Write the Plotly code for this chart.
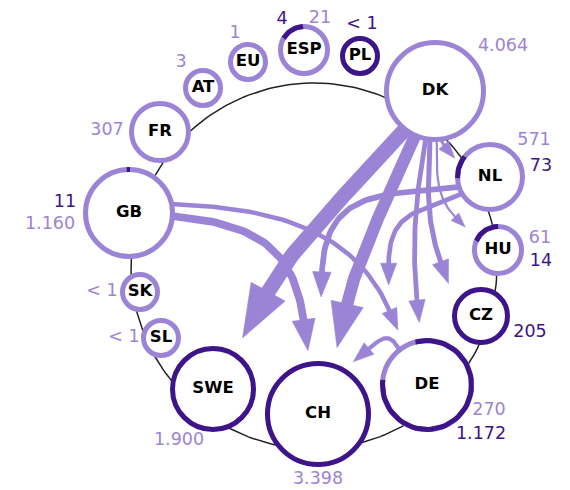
import math
import plotly.graph_objects as go

LIGHT = "#9b84d5"
DARK = "#3d1489"

# ---- data ----
nodes = ["DK", "NL", "HU", "CZ", "DE", "CH", "SWE", "SL", "SK", "GB", "FR", "AT", "EU", "ESP", "PL"]
light_vals = [4064, 571, 61, None, 270, 3398, 1900, 0.5, 0.5, 1160, 307, 3, 1, 21, None]
dark_vals = [None, 73, 14, 205, 1172, None, None, None, None, 11, None, None, None, 4, 0.5]
# share of each ring drawn in dark purple
ring_dark = [0, 0.113, 0.187, 1, 0.81, 1, 1, 0, 0, 0.01, 0, 0, 0, 0.16, 1]

flow_src = ["DK", "DK", "DK", "DK", "DK", "DK", "NL", "NL", "GB", "GB", "DE"]
flow_tgt = ["SWE", "CH", "DE", "CZ", "HU", "NL", "CH", "DE", "CH", "DE", "CH"]
flow_val = [1900, 1250, 140, 160, 14, 40, 220, 130, 450, 120, 100]

# ---- layout (pixels, y down) ----
node_x = [435, 490, 498, 481, 427, 318, 213, 161, 140, 129, 160, 203, 248, 304, 360]
node_y = [91, 177, 250, 316, 385, 414, 389, 338, 292, 213, 132, 88, 62, 50, 56]
node_r = [51, 35, 26, 29, 47, 53, 43, 20, 20, 46, 31, 20, 20, 26, 20]
ring_start = [0, 268, 293, 0, 345, 0, 0, 0, 0, 357, 0, 0, 0, 300, 0]

light_off = {"DK": (68, -44), "NL": (44, -36), "HU": (42, -11), "DE": (62, 26), "CH": (0, 66),
             "SWE": (-34, 52), "SL": (-37, 0), "SK": (-38, 0), "GB": (-79, 12), "FR": (-53, -1),
             "AT": (-22, -25), "EU": (-13, -28), "ESP": (16, -31)}
dark_off = {"NL": (51, -10), "HU": (43, 12), "CZ": (49, 17), "DE": (54, 50), "GB": (-64, -10),
            "ESP": (-22, -30), "PL": (2, -31)}

# arrow geometry: start angle on source, leaving dir, tip angle at target, gap, arriving dir, bends
flow_a0 = [128, 114, 101, 96, 88, 84, 162, 149, 4, -12, -128]
flow_d0 = [130, 112, 100, 93, 90, 60, 175, 158, 5, 2, -120]
flow_ta = [-60, -74, -97, -135, -145, -152, -88.5, -111, -99, -118, -56]
flow_gap = [16, 16, 16, 17, 14, 5, 64, 60, 11, 15, 10]
flow_d1 = [119, 103, 84, 70, 45, 50, 92, 90, 82, 67, 140]
flow_f0 = [0.33, 0.33, 0.35, 0.4, 0.45, 0.3, 0.5, 0.5, 0.55, 0.45, 0.7]
flow_f1 = [0.33, 0.33, 0.35, 0.35, 0.35, 0.3, 0.5, 0.5, 0.4, 0.35, 0.6]

RING_W = 5
circle_c = (314, 266)
circle_r = 183
PAGE_PAD = 8  # the page body margin shifts the figure; shift the ranges back


def fmt(v):
	if v < 1:
		return "< 1"
	return "{:,}".format(v).replace(",", ".")


def unit(deg):
	a = math.radians(deg)
	return math.cos(a), math.sin(a)


def bezier(p0, c1, c2, p3, n=50):
	xs, ys = [], []
	for i in range(n + 1):
		t = i / n
		a, b, c, d = (1 - t) ** 3, 3 * (1 - t) ** 2 * t, 3 * (1 - t) * t ** 2, t ** 3
		xs.append(a * p0[0] + b * c1[0] + c * c2[0] + d * p3[0])
		ys.append(a * p0[1] + b * c1[1] + c * c2[1] + d * p3[1])
	return xs, ys


def arc(cx, cy, r, start, end, n=80):
	xs, ys = [], []
	for i in range(n + 1):
		th = math.radians(start + (end - start) * i / n)
		xs.append(cx + r * math.sin(th))
		ys.append(cy - r * math.cos(th))
	return xs, ys


fig = go.Figure()

# background ring
cx, cy = arc(circle_c[0], circle_c[1], circle_r, 0, 360, 240)
fig.add_trace(go.Scatter(x=cx, y=cy, mode="lines", line=dict(color="#222222", width=1.5), hoverinfo="skip"))

idx = {n: i for i, n in enumerate(nodes)}

# flows
for k in range(len(flow_src)):
	s = idx[flow_src[k]]
	t = idx[flow_tgt[k]]
	w = 1 + 0.32 * math.sqrt(flow_val[k])
	hl = 8 + 3 * w
	hw = 6 + 2.2 * w
	ua = unit(flow_a0[k])
	p0 = (node_x[s] + (node_r[s] - 3) * ua[0], node_y[s] + (node_r[s] - 3) * ua[1])
	ut = unit(flow_ta[k])
	rt = node_r[t] + flow_gap[k]
	tip = (node_x[t] + rt * ut[0], node_y[t] + rt * ut[1])
	u1 = unit(flow_d1[k])
	base = (tip[0] - hl * u1[0], tip[1] - hl * u1[1])
	L = math.hypot(base[0] - p0[0], base[1] - p0[1])
	u0 = unit(flow_d0[k])
	c1 = (p0[0] + flow_f0[k] * L * u0[0], p0[1] + flow_f0[k] * L * u0[1])
	c2 = (base[0] - flow_f1[k] * L * u1[0], base[1] - flow_f1[k] * L * u1[1])
	end = (base[0] + 2 * u1[0], base[1] + 2 * u1[1])
	lx, ly = bezier(p0, c1, c2, end)
	fig.add_trace(go.Scatter(x=lx, y=ly, mode="lines", line=dict(color=LIGHT, width=w), hoverinfo="skip"))
	px, py = -u1[1], u1[0]
	hx = [tip[0], base[0] + hw / 2 * px, base[0] - hw / 2 * px, tip[0]]
	hy = [tip[1], base[1] + hw / 2 * py, base[1] - hw / 2 * py, tip[1]]
	fig.add_trace(go.Scatter(x=hx, y=hy, mode="lines", fill="toself", fillcolor=LIGHT,
		line=dict(color=LIGHT, width=0.5), hoverinfo="skip"))

# nodes
ring_cols = [DARK if d >= 1 else LIGHT for d in ring_dark]
fig.add_trace(go.Scatter(
	x=node_x, y=node_y, mode="markers",
	marker=dict(size=[2 * r - RING_W for r in node_r], color="white", opacity=1,
		line=dict(color=ring_cols, width=RING_W)),
	hoverinfo="skip"
))

for i, d in enumerate(ring_dark):
	if 0 < d < 1:
		start = ring_start[i]
		ax, ay = arc(node_x[i], node_y[i], node_r[i] - RING_W / 2, start, start + 360 * max(d, 0.012), 60)
		fig.add_trace(go.Scatter(x=ax, y=ay, mode="lines", line=dict(color=DARK, width=RING_W), hoverinfo="skip"))

fig.add_trace(go.Scatter(
	x=node_x, y=node_y, mode="text", text=nodes, cliponaxis=False,
	textfont=dict(family="DejaVu Sans", size=16.5, color="black", weight="bold"),
	hoverinfo="skip"
))

# value labels
for vals, offs, col in [(light_vals, light_off, LIGHT), (dark_vals, dark_off, DARK)]:
	lx, ly, lt = [], [], []
	for i, n in enumerate(nodes):
		if vals[i] is None:
			continue
		dx, dy = offs[n]
		lx.append(node_x[i] + dx)
		ly.append(node_y[i] + dy)
		lt.append(fmt(vals[i]))
	fig.add_trace(go.Scatter(x=lx, y=ly, mode="text", text=lt, cliponaxis=False,
		textfont=dict(family="DejaVu Sans", size=17.5, color=col), hoverinfo="skip"))

fig.update_layout(
	width=570, height=490,
	margin=dict(l=0, r=0, t=0, b=0),
	showlegend=False,
	plot_bgcolor="white", paper_bgcolor="white",
	xaxis=dict(range=[PAGE_PAD, 570 + PAGE_PAD], visible=False, fixedrange=True),
	yaxis=dict(range=[490 + PAGE_PAD, PAGE_PAD], visible=False, fixedrange=True),
)

fig.write_html("out.html")
